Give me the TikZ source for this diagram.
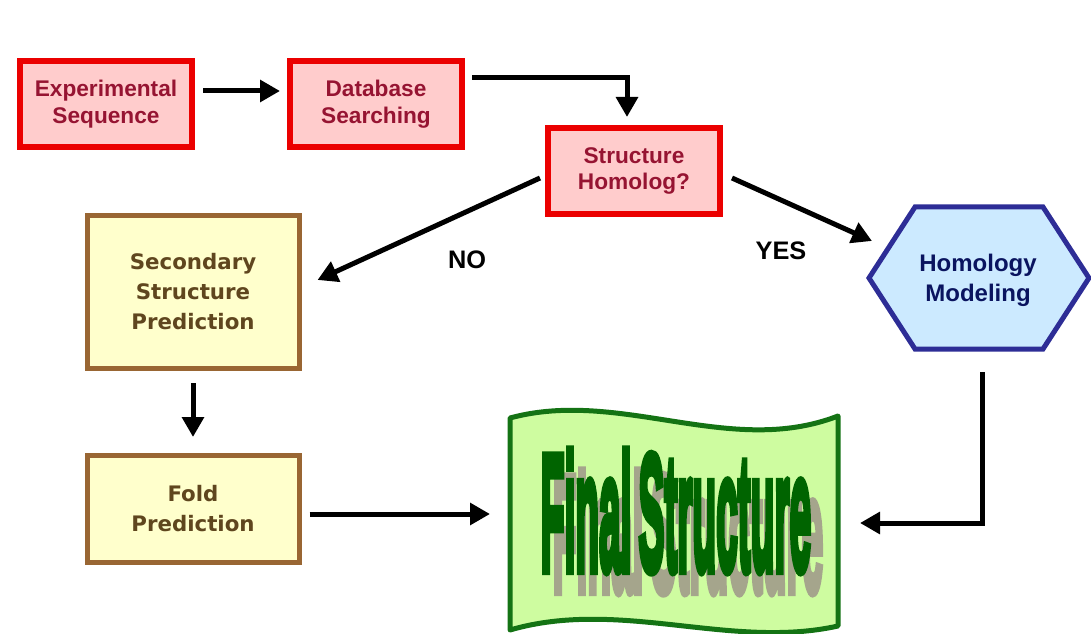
\documentclass[tikz,border=0pt]{standalone}
\usepackage{fontspec}
\setmainfont{Liberation Sans}
\newfontfamily\verdanaish{DejaVu Sans}
\newfontfamily\heavyfont[FakeBold=6]{Liberation Sans Bold}
\usetikzlibrary{arrows.meta,calc}
\definecolor{boxred}{RGB}{235,0,0}
\definecolor{boxpink}{RGB}{255,204,204}
\definecolor{txtred}{RGB}{150,20,50}
\definecolor{boxbrown}{RGB}{153,102,51}
\definecolor{boxyellow}{RGB}{255,255,204}
\definecolor{txtbrown}{RGB}{95,70,30}
\definecolor{hexblue}{RGB}{45,45,150}
\definecolor{hexfill}{RGB}{204,234,255}
\definecolor{txtnavy}{RGB}{10,20,95}
\definecolor{flaggreen}{RGB}{20,115,20}
\definecolor{flagfill}{RGB}{206,252,160}
\definecolor{finalgreen}{RGB}{0,100,0}
\definecolor{shadowgrey}{RGB}{165,165,140}
\tikzset{
  redbox/.style={draw=boxred, fill=boxpink, line width=4.5pt, minimum width=129pt, minimum height=64.5pt,
    align=center, text=txtred, font=\fontsize{17}{20}\selectfont\bfseries, inner sep=0pt},
  brownbox/.style={draw=boxbrown, fill=boxyellow, line width=3.75pt, minimum width=159pt,
    align=center, text=txtbrown, font=\verdanaish\fontsize{16}{22.5}\selectfont\bfseries, inner sep=0pt},
  conn/.style={line width=3.75pt, draw=black, -{Triangle[length=15pt,width=16pt]}},
  lbl/.style={font=\fontsize{19}{22}\selectfont\bfseries, text=black, inner sep=0pt},
}
\newcommand{\finaltext}{\scalebox{0.235}[1]{\heavyfont\fontsize{124}{124}\selectfont Final\hspace{-12pt} Structure}}
\begin{document}
\begin{tikzpicture}[x=0.75pt,y=-0.75pt]
\useasboundingbox (0,0) rectangle (1091,634);
% boxes
\node[redbox] (exp) at (106,104) {Experimental\\Sequence};
\node[redbox] (db) at (376,104) {Database\\Searching};
\node[redbox] (sh) at (634,171) {Structure\\Homolog?};
\node[brownbox, minimum height=114.75pt] (sec) at (193,292) {Secondary\\Structure\\Prediction};
\node[brownbox, minimum height=80.25pt] (fold) at (193,509) {Fold\\Prediction};
% hexagon
\draw[draw=hexblue, fill=hexfill, line width=3.75pt, line join=miter]
  (869,278) -- (915,207) -- (1043,207) -- (1089,278) -- (1043,349) -- (915,349) -- cycle;
\node[align=center, text=txtnavy, font=\fontsize{18}{22.5}\selectfont\bfseries, inner sep=0pt] (hm) at (978,280) {Homology\\Modeling};
% flag
\begin{scope}
\clip (0,0) rectangle (1091,634);
\draw[draw=flaggreen, fill=flagfill, line width=3.75pt, line join=round]
  (510,418) .. controls (620,388) and (730,458) .. (838,416)
  -- (838,626) .. controls (730,650) and (620,598) .. (510,630) -- cycle;
\end{scope}
\node[inner sep=0pt, text=shadowgrey] (finalshadow) at (688,532) {\finaltext};
\node[inner sep=0pt, text=finalgreen] (final) at (676,511) {\finaltext};
% labels
\node[lbl] (no) at (467,260) {NO};
\node[lbl] (yes) at (781,251) {YES};
% connectors
\draw[conn] ($(exp.east)+(8,-13)$) -- ($(db.west)+(-7,-13)$);
\draw[conn] ($(db.east)+(7,-26)$) -| ($(sh.north)+(-7,-8)$);
\draw[conn] ($(sh.west)+(-5,7)$) -- ($(sec.east)+(16,-12)$);
\draw[conn] ($(sh.east)+(9,7)$) -- ($(hm)+(-106,-39)$);
\draw[conn] ($(sec.south)+(0,12)$) -- ($(fold.north)+(0,-16)$);
\draw[conn] ($(fold.east)+(8,5)$) -- ($(final.center)+(-186,3)$);
\draw[conn] ($(hm)+(4,92)$) |- ($(final.center)+(184,12)$);
\end{tikzpicture}
\end{document}
